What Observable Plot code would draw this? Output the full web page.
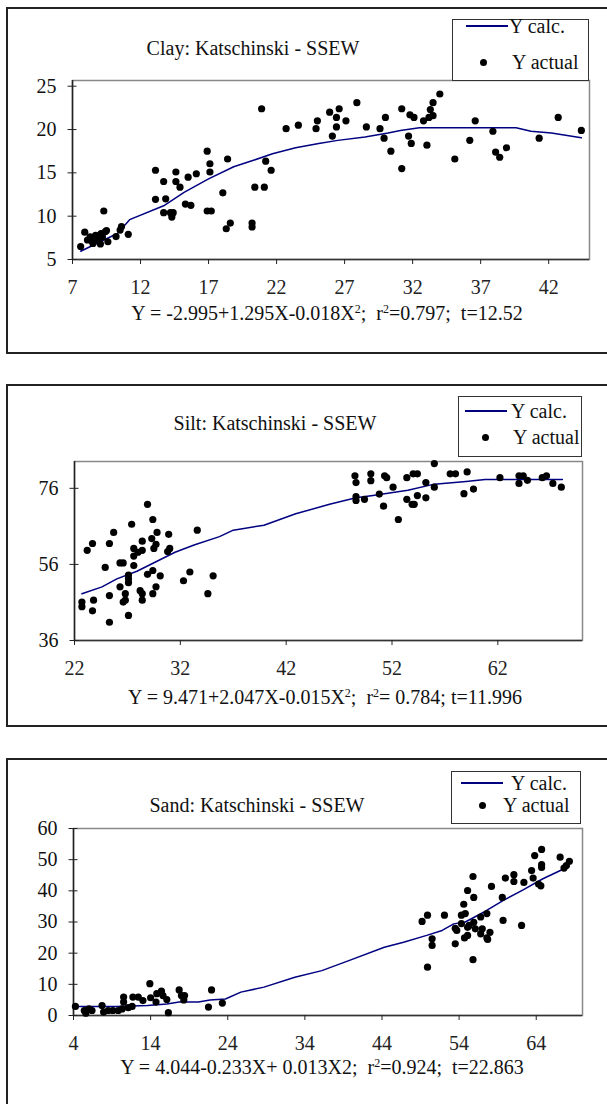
<!DOCTYPE html>
<html><head><meta charset="utf-8">
<script src="https://cdn.jsdelivr.net/npm/d3@7"></script>
<script src="https://cdn.jsdelivr.net/npm/@observablehq/plot@0.6"></script>
<style>
html,body{margin:0;padding:0;background:#fff;}
body{width:607px;height:1104px;overflow:hidden;position:relative;font-family:"Liberation Serif","Times New Roman",serif;color:#111}
.box{position:absolute;left:6px;width:660px;border:2px solid #222;box-sizing:border-box}
.abs{position:absolute;white-space:nowrap;line-height:1}
.c{transform:translate(-50%,-50%)}
.l{transform:translate(0,-50%)}
.leg{position:absolute;border:1px solid #333;background:#fff;box-sizing:border-box}
.chart{position:absolute;left:0}
sup{font-size:0.6em;vertical-align:0;position:relative;top:-0.55em}
</style></head>
<body>
<script>
// ---------- DATA ----------
const legendLabels = ["Y calc.", "Y actual"];

const clayTitle = "Clay: Katschinski - SSEW";
const clayEquation = "Y = -2.995+1.295X-0.018X<sup>2</sup>;&nbsp; r<sup>2</sup>=0.797;&nbsp; t=12.52";
const clayXTicks = [7, 12, 17, 22, 27, 32, 37, 42];
const clayYTicks = [5, 10, 15, 20, 25];
const clayX = [13.1,14.6,15.5,16.1,16.9,17.1,17.1,18.4,20.9,21.2,21.6,22.7,23.6,24.9,25.0,25.9,26.1,26.4,26.6,26.4,27.1,27.9,28.6,29.6,29.9,30.0,30.4,31.2,31.2,31.7,31.8,31.9,32.1,32.8,33.05,33.2,33.3,33.5,33.5,34.0,35.1,36.2,36.6,37.9,38.1,38.4,38.9,41.3,42.7,44.4,
  7.6,7.9,8.1,8.3,8.5,8.7,8.9,9.05,9.1,9.3,9.4,9.5,9.6,8.4,8.8,9.2,10.2,10.5,10.6,11.1,13.1,13.7,13.7,13.85,14.2,14.3,14.4,14.6,14.9,15.3,15.7,16.9,17.2,18.05,18.3,18.6,20.2,20.2,20.4,21.1];
const clayY = [15.3,15.1,14.5,14.9,17.5,16.05,15.1,16.6,22.4,16.35,15.3,20.1,20.5,20.1,21.0,22.0,19.25,21.4,22.4,20.3,21.0,23.1,20.3,20.1,19.0,21.4,17.5,22.4,15.5,19.25,21.7,18.4,21.4,21.0,18.2,21.4,22.3,21.6,23.1,24.1,16.6,18.75,21.0,19.8,17.4,16.8,17.9,19.0,21.4,19.9,
  6.5,8.15,7.25,7.6,6.85,7.8,7.25,6.8,8.0,10.6,8.2,8.35,7.05,7.2,7.5,7.6,7.65,8.4,8.8,7.9,11.95,14.0,10.4,12.0,10.4,9.9,10.4,14.0,13.35,11.4,11.25,10.6,10.6,12.7,8.55,9.2,9.2,8.75,13.35,13.35];
const clayCalcX = [7.6,10.3,11.2,13.7,15.2,17.0,18.85,20.3,21.7,23.4,25.1,26.5,28.5,30.2,31.1,32.5,35.9,39.6,40.7,42.2,44.4];
const clayCalcY = [5.95,8.0,9.6,11.2,12.75,14.3,15.7,16.45,17.2,17.9,18.4,18.75,19.15,19.6,19.9,20.2,20.2,20.2,19.8,19.6,19.05];

const siltTitle = "Silt: Katschinski - SSEW";
const siltEquation = "Y = 9.471+2.047X-0.015X<sup>2</sup>;&nbsp; r<sup>2</sup>= 0.784; t=11.996";
const siltXTicks = [22, 32, 42, 52, 62];
const siltYTicks = [36, 56, 76];
const siltX = [25.7,27.4,28.9,29.4,29.8,30.9,33.6,48.5,48.6,48.6,48.6,49.4,50.0,50.0,50.8,51.2,51.3,51.5,52.1,52.6,53.4,53.4,54.0,54.4,53.9,54.1,54.4,55.2,55.2,56.0,56.0,57.5,58.0,58.8,59.1,59.7,62.2,64.0,64.0,64.4,64.8,66.2,66.6,67.2,68.0,
  22.7,22.7,23.2,23.7,23.7,23.8,24.9,25.3,25.3,25.3,26.3,26.3,26.6,26.6,26.8,26.8,27.1,27.1,27.1,27.1,27.6,27.6,27.6,28.0,28.2,28.4,28.4,28.4,28.4,28.9,29.3,29.4,29.4,29.5,29.7,29.7,30.1,30.8,31.0,32.3,32.9,34.6,35.1];
const siltY = [64.4,66.55,71.8,67.8,64.4,63.9,65.0,79.3,77.5,73.8,72.8,73.1,79.8,78.0,74.5,71.3,79.3,78.8,76.3,67.8,78.8,73.1,79.8,79.8,71.8,71.8,74.1,77.5,73.5,82.5,76.3,79.8,79.8,74.6,80.3,75.8,78.8,79.3,77.3,79.3,78.1,78.8,79.3,77.3,76.3,
  46.1,44.9,59.7,61.5,43.8,46.6,55.2,61.5,47.8,40.8,56.4,50.1,56.4,46.1,48.3,46.6,42.6,53.2,52.2,51.2,60.2,58.2,55.7,59.2,49.1,59.7,48.3,46.6,62.1,53.4,62.8,54.4,48.3,60.2,61.3,50.1,53.0,59.4,60.2,51.7,54.0,48.3,53.0];
const siltCalcX = [22.7,24.6,26.0,27.9,29.7,31.5,33.3,35.7,37.0,39.9,42.9,46.1,48.6,50.2,53.5,56.0,59.0,60.8,68.1];
const siltCalcY = [48.3,50.1,52.2,54.2,56.7,59.2,61.1,63.3,65.0,66.3,69.3,71.8,73.5,74.1,75.5,77.1,77.8,78.3,78.3];

const sandTitle = "Sand: Katschinski - SSEW";
const sandEquation = "Y = 4.044-0.233X+ 0.013X2;&nbsp; r<sup>2</sup>=0.924;&nbsp; t=22.863";
const sandXTicks = [4, 14, 24, 34, 44, 54, 64];
const sandYTicks = [0, 10, 20, 30, 40, 50, 60];
const sandX = [49.2,49.9,52.1,53.5,54.3,54.6,54.3,54.8,55.1,55.8,55.9,56.8,57.6,58.2,59.6,60.0,61.1,61.1,62.4,63.4,63.6,63.8,64.7,64.7,64.7,64.3,64.6,67.1,67.6,67.9,68.3,
  4.25,5.4,5.6,6.0,6.4,7.7,7.9,8.5,9.1,9.8,10.3,10.5,10.5,11.1,11.6,11.7,12.4,13.0,13.9,14.0,14.7,14.8,15.4,15.6,16.1,16.3,17.7,18.0,18.3,18.4,21.5,21.9,23.3,
  49.9,50.5,50.5,53.5,53.7,55.1,54.7,55.1,55.8,55.9,56.1,56.8,57.0,57.6,57.7,58.0,59.7,62.1,55.3];
const sandY = [30.2,32.2,32.2,28.0,29.5,35.7,32.2,32.7,40.1,44.6,37.9,31.6,32.7,41.4,37.9,44.1,45.2,43.0,42.7,46.5,44.1,51.3,53.3,48.4,47.5,42.2,41.6,50.8,47.3,48.1,49.5,
  2.9,1.6,0.75,2.1,1.6,3.2,1.1,1.6,1.6,1.6,2.1,5.9,4.3,2.5,2.9,5.9,5.9,4.8,10.2,5.7,4.3,7.0,7.8,6.4,5.1,0.9,8.2,6.4,5.0,6.4,2.7,8.2,4.0,
  15.5,24.6,22.5,23.0,27.3,28.3,24.9,25.7,17.9,29.9,27.8,26.2,27.8,24.9,24.4,26.7,30.5,28.9,28.9];
const sandCalcX = [4.1,9.6,13.6,16.1,17.7,20.2,21.7,23.7,25.7,28.7,32.7,36.2,39.7,44.3,46.8,49.8,51.8,53.3,54.8,57.3,59.8,62.3,64.8,68.3];
const sandCalcY = [2.9,2.9,3.2,3.7,4.3,4.3,5.0,5.3,7.5,9.1,12.3,14.4,17.6,21.9,23.5,25.7,27.3,29.4,30.0,33.3,37.0,40.3,43.8,47.9];

// ---------- LAYOUT ----------
const panels = [
  {title: clayTitle, eq: clayEquation, xs: clayX, ys: clayY, cx: clayCalcX, cy: clayCalcY, xTicks: clayXTicks, yTicks: clayYTicks,
   xDomain: [7, 45], yDomain: [5, 25.66],
   box: [7, 354], svgTop: 0, svgH: 300, m: {top: 80, bottom: 41, left: 72, right: 18},
   titlePos: [253, 48], eqPos: [327, 313],
   leg: {x1: 452, y1: 19, x2: 589, y2: 81, lx1: 466, lx2: 508, ly: 26, tx1: 509, dx: 483, dy: 62, tx2: 512}},
  {title: siltTitle, eq: siltEquation, xs: siltX, ys: siltY, cx: siltCalcX, cy: siltCalcY, xTicks: siltXTicks, yTicks: siltYTicks,
   xDomain: [22, 70], yDomain: [36, 83.05],
   box: [384, 727], svgTop: 380, svgH: 300, m: {top: 81, bottom: 40, left: 74, right: 25},
   titlePos: [275, 423], eqPos: [325, 697],
   leg: {x1: 458, y1: 396, x2: 582, y2: 457, lx1: 465, lx2: 507, ly: 411, tx1: 511, dx: 485, dy: 437, tx2: 513}},
  {title: sandTitle, eq: sandEquation, xs: sandX, ys: sandY, cx: sandCalcX, cy: sandCalcY, xTicks: sandXTicks, yTicks: sandYTicks,
   xDomain: [4, 70], yDomain: [0, 60],
   box: [758, 1110], svgTop: 750, svgH: 310, m: {top: 78, bottom: 45, left: 73, right: 25},
   titlePos: [257, 805], eqPos: [322, 1067],
   leg: {x1: 451, y1: 771, x2: 581, y2: 824, lx1: 461, lx2: 503, ly: 783, tx1: 511, dx: 482, dy: 805, tx2: 503}}
];

const FONT = '"Liberation Serif","Times New Roman",serif';
const LINE = "#000080";

function el(tag, cls, style, html) {
  const e = document.createElement(tag);
  if (cls) e.className = cls;
  Object.assign(e.style, style || {});
  if (html != null) e.innerHTML = html;
  document.body.appendChild(e);
  return e;
}

for (const p of panels) {
  el("div", "box", {top: p.box[0] + "px", height: (p.box[1] - p.box[0]) + "px"});

  const pts = p.xs.map((x, i) => ({x, y: p.ys[i]}));
  const calc = p.cx.map((x, i) => ({x, y: p.cy[i]}));
  const chart = Plot.plot({
    width: 607, height: p.svgH,
    marginTop: p.m.top, marginBottom: p.m.bottom, marginLeft: p.m.left, marginRight: p.m.right,
    style: {fontFamily: FONT, fontSize: "20px", background: "transparent", color: "#111", overflow: "visible"},
    x: {domain: p.xDomain}, y: {domain: p.yDomain},
    marks: [
      Plot.frame({stroke: "#888", strokeWidth: 1.5}),
      Plot.ruleX([p.xDomain[0]], {stroke: "#222", strokeWidth: 1.5}),
      Plot.ruleY([p.yDomain[0]], {stroke: "#333", strokeWidth: 1.5}),
      Plot.line(calc, {x: "x", y: "y", stroke: LINE, strokeWidth: 1.5}),
      Plot.dot(pts, {x: "x", y: "y", r: 3.6, fill: "#000", stroke: null}),
      Plot.axisY({ticks: p.yTicks, tickSize: 9, dx: 4.5, tickFormat: () => "", label: null, color: "#222"}),
      Plot.axisY({ticks: p.yTicks, tickSize: 0, tickPadding: 16, label: null, fontSize: 20, color: "#111"}),
      Plot.axisX({ticks: p.xTicks, tickSize: 5, tickPadding: 15, label: null, fontSize: 20, color: "#222"})
    ]
  });
  chart.classList.add("chart");
  chart.style.top = p.svgTop + "px";
  document.body.appendChild(chart);

  el("div", "abs c", {left: p.titlePos[0] + "px", top: p.titlePos[1] + "px", fontSize: "20px"}, p.title);
  el("div", "abs c", {left: p.eqPos[0] + "px", top: p.eqPos[1] + "px", fontSize: "20px"}, p.eq);

  const L = p.leg;
  el("div", "leg", {left: L.x1 + "px", top: L.y1 + "px", width: (L.x2 - L.x1) + "px", height: (L.y2 - L.y1) + "px"});
  el("div", "", {position: "absolute", left: L.lx1 + "px", top: (L.ly - 1) + "px", width: (L.lx2 - L.lx1) + "px", height: "0", borderTop: "2px solid " + LINE});
  el("div", "abs l", {left: L.tx1 + "px", top: L.ly + "px", fontSize: "20px"}, legendLabels[0]);
  el("div", "", {position: "absolute", left: (L.dx - 3.5) + "px", top: (L.dy - 3.5) + "px", width: "7px", height: "7px", borderRadius: "50%", background: "#000"});
  el("div", "abs l", {left: L.tx2 + "px", top: L.dy + "px", fontSize: "20px"}, legendLabels[1]);
}
</script>
</body></html>
